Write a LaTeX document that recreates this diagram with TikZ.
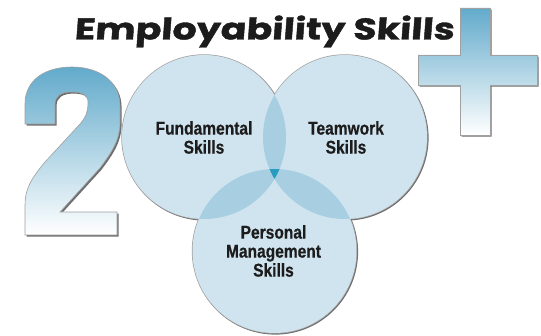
\documentclass[tikz,border=0pt]{standalone}
\usepackage{fontspec}
\setmainfont{Liberation Sans}
\newfontfamily\titlefont{Poppins}[FakeSlant=0.06,FakeBold=1.2]
\newfontfamily\skillfont{Liberation Sans}[FakeBold=0.6]
\definecolor{circfill}{HTML}{D0E4EF}
\definecolor{pairfill}{HTML}{A8CFE1}
\definecolor{tripfill}{HTML}{2A9AC0}
\definecolor{rimgray}{HTML}{A0A0A0}
\definecolor{shadowgray}{HTML}{6E6E6E}
\definecolor{digitblue}{HTML}{62AACB}
\definecolor{inkdark}{HTML}{1C1C1C}
\tikzset{
  skill/.style={font=\skillfont\fontsize{18.5}{19}\selectfont\bfseries, text=inkdark, align=center, inner sep=0pt, xscale=0.84, transform shape, anchor=north},
  titlestyle/.style={font=\titlefont\fontsize{30}{32}\selectfont\bfseries, text=inkdark, inner sep=0pt, xscale=1.265, transform shape, anchor=base west},
  rim/.style={rimgray, line width=1.4pt},
  rimshadow/.style={shadowgray, line width=1.4pt},
  bigshape/.style={top color=digitblue, bottom color=white, draw=rimgray, line width=0.6pt},
  bigshadow/.style={fill=shadowgray}
}
\begin{document}
\begin{tikzpicture}[x=1pt,y=-1pt]
\useasboundingbox (0,0) rectangle (541,336);
% digit 2
\def\digitpath{(25,124) -- (25,104) .. controls (25,80) and (45,67) .. (72,67) .. controls (100,67) and (120,82) .. (120,106) -- (120,122) .. controls (120,140) and (112,152) .. (100,168) -- (60,212) -- (117,212) -- (117,235) -- (25,235) -- (25,205) .. controls (25,190) and (30,180) .. (45,162) -- (80,124) .. controls (86,117) and (88,111) .. (88,104) -- (88,102) .. controls (88,95) and (82,92) .. (72,92) .. controls (61,92) and (55,96) .. (55,104) -- (55,124) -- cycle}
\fill[bigshadow, shift={(1.6,1.6)}] \digitpath;
\shade[bigshape] \digitpath;
% plus
\def\pluspath{(460,8) -- (490,8) -- (490,55) -- (537,55) -- (537,85) -- (490,85) -- (490,135) -- (460,135) -- (460,85) -- (418,85) -- (418,55) -- (460,55) -- cycle}
\fill[bigshadow, shift={(1.6,1.6)}] \pluspath;
\shade[bigshape] \pluspath;
% title
\node[titlestyle] (title) at (74,39.5) {Employability Skills};
% circles
\coordinate (cF) at (204,137);
\coordinate (cT) at (345,137);
\coordinate (cP) at (274.5,251);
\foreach \c in {cF,cT,cP}{
  \draw[rimshadow] ([shift={(0.9,0.9)}]\c) circle (82pt);
  \draw[rim] (\c) circle (82pt);
}
\foreach \c in {cF,cT,cP}{
  \fill[circfill] (\c) circle (82pt);
}
\begin{scope}
  \clip (cF) circle (82pt);
  \fill[pairfill] (cT) circle (82pt);
  \fill[pairfill] (cP) circle (82pt);
\end{scope}
\begin{scope}
  \clip (cT) circle (82pt);
  \fill[pairfill] (cP) circle (82pt);
\end{scope}
\begin{scope}
  \clip (cF) circle (82pt);
  \clip (cT) circle (82pt);
  \fill[tripfill] (cP) circle (82pt);
\end{scope}
% labels
\node[skill] (fund) at (204,121) {Fundamental\\Skills};
\node[skill] (team) at (346,121) {Teamwork\\Skills};
\node[skill] (pers) at (273.5,225) {Personal\\Management\\Skills};
\end{tikzpicture}
\end{document}
